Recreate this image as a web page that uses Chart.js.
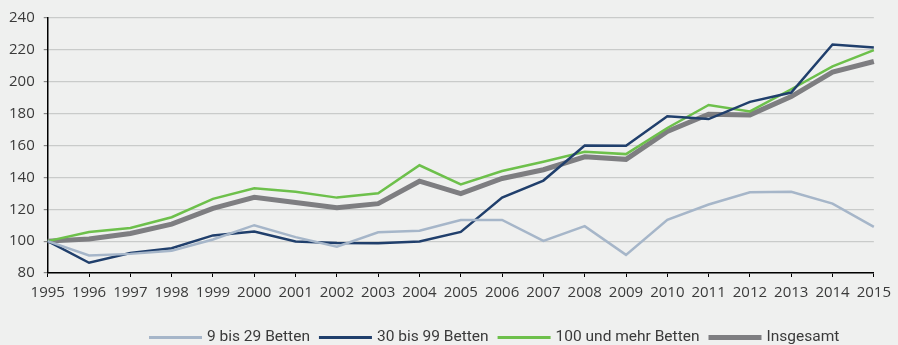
<!DOCTYPE html>
<html lang="de">
<head>
<meta charset="utf-8">
<script src="https://cdn.jsdelivr.net/npm/chart.js@4/dist/chart.umd.min.js"></script>
<style>
  html, body { margin: 0; padding: 0; background: #eff0ef; }
  #wrap { width: 898px; height: 345px; position: relative; }
</style>
</head>
<body>
<div id="wrap"><canvas id="grafik"></canvas></div>
<script>
// Jahre und Indexwerte (1995 = 100)
const jahre = ['1995','1996','1997','1998','1999','2000','2001','2002','2003','2004',
               '2005','2006','2007','2008','2009','2010','2011','2012','2013','2014','2015'];

const betten9bis29 = [100, 91, 92, 94, 101, 110, 102.5, 96.5, 105.5, 106.5,
                      113.3, 113.3, 100.2, 109.4, 91.4, 113.4, 123, 130.6, 131, 123.5, 108.9];
const betten30bis99 = [100, 86.4, 92.6, 95.5, 103.6, 106, 99.8, 98.9, 98.6, 99.8,
                       105.8, 127.3, 138, 160, 159.8, 178.4, 176.6, 187.4, 193.2, 223.4, 221.5];
const betten100plus = [100, 105.7, 108.3, 115, 126.5, 133.2, 131, 127.3, 130, 147.6,
                       135.6, 144, 149.8, 156, 154.6, 171, 185.4, 181.4, 195.3, 209.7, 219.8];
const insgesamt = [100, 101.3, 104.8, 110.7, 120.6, 127.5, 124.3, 121, 123.5, 137.6,
                   129.8, 139.3, 144.8, 152.9, 151.3, 168.8, 179.6, 179.2, 190.7, 206, 212.7];

const labels = ['9 bis 29 Betten', '30 bis 99 Betten', '100 und mehr Betten', 'Insgesamt'];

const textFarbe = '#3a3a3a';

function linie(label, data, color, width) {
    return {
        label: label,
        data: data,
        borderColor: color,
        backgroundColor: color,
        borderWidth: width,
        pointRadius: 0,
        tension: 0,
        fill: false
    };
}

// eigene Legende unter der Grafik (Linienmuster + Text, nebeneinander)
const legendeUnten = {
    id: 'legendeUnten',
    afterDraw(chart) {
        const ctx = chart.ctx;
        const y = 337.5;
        let x = 149;
        ctx.save();
        ctx.font = '15.5px Roboto, "Open Sans", sans-serif';
        ctx.textBaseline = 'middle';
        ctx.textAlign = 'left';
        chart.data.datasets.forEach(ds => {
            ctx.strokeStyle = ds.borderColor;
            ctx.lineWidth = ds.borderWidth > 3 ? 5 : 3;
            ctx.beginPath();
            ctx.moveTo(x, y);
            ctx.lineTo(x + 53, y);
            ctx.stroke();
            x += 58;
            ctx.fillStyle = textFarbe;
            ctx.fillText(ds.label, x, y);
            x += ctx.measureText(ds.label).width + 9;
        });
        ctx.restore();
    }
};

new Chart(document.getElementById('grafik'), {
    type: 'line',
    data: {
        labels: jahre,
        datasets: [
            linie(labels[0], betten9bis29, '#a6b6c9', 2.5),
            linie(labels[1], betten30bis99, '#203f6c', 2.5),
            linie(labels[2], betten100plus, '#6dc04b', 2.5),
            linie(labels[3], insgesamt, '#7e7e81', 5)
        ]
    },
    options: {
        responsive: true,
        maintainAspectRatio: false,
        animation: false,
        layout: { padding: { left: 0, right: 22, top: 13, bottom: 36 } },
        scales: {
            x: {
                type: 'category',
                offset: false,
                grid: {
                    drawOnChartArea: false,
                    drawTicks: true,
                    tickLength: 4,
                    tickColor: '#000',
                    tickWidth: 1
                },
                border: { display: true, color: '#000', width: 1.5 },
                ticks: {
                    color: textFarbe,
                    padding: 7,
                    maxRotation: 0,
                    autoSkip: false,
                    font: { family: '"Open Sans", sans-serif', size: 15 }
                }
            },
            y: {
                min: 80,
                max: 240,
                ticks: {
                    stepSize: 20,
                    color: textFarbe,
                    padding: 9,
                    font: { family: '"Open Sans", sans-serif', size: 15 }
                },
                grid: {
                    color: '#c9cbca',
                    lineWidth: 1.2,
                    drawTicks: true,
                    tickLength: 4,
                    tickColor: '#888'
                },
                border: { display: true, color: '#000', width: 1.5 }
            }
        },
        plugins: {
            legend: { display: false },
            tooltip: { enabled: false }
        }
    },
    plugins: [legendeUnten]
});
</script>
</body>
</html>
